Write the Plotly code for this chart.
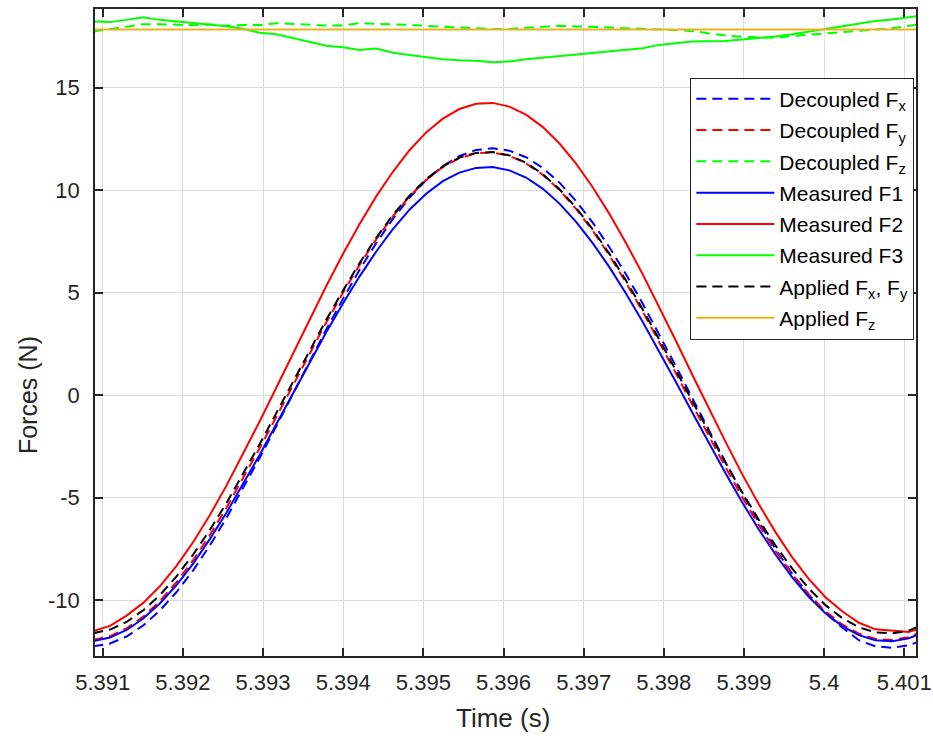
import plotly.graph_objects as go

# ---------------- data ----------------
time_s = [5.390883, 5.391091, 5.391298, 5.391506, 5.391713, 5.391921, 5.392129, 5.392336,
          5.392544, 5.392751, 5.392959, 5.393167, 5.393374, 5.393582, 5.393789, 5.393997,
          5.394205, 5.394412, 5.394620, 5.394827, 5.395035, 5.395243, 5.395450, 5.395658,
          5.395865, 5.396073, 5.396281, 5.396488, 5.396696, 5.396903, 5.397111, 5.397319,
          5.397526, 5.397734, 5.397941, 5.398149, 5.398357, 5.398564, 5.398772, 5.398979,
          5.399187, 5.399395, 5.399602, 5.399810, 5.400017, 5.400225, 5.400433, 5.400640,
          5.400848, 5.401055, 5.401263]

decoupled_fx = [-12.25, -12.11, -11.77, -11.23, -10.50, -9.60, -8.54, -7.33, -5.99, -4.56,
                -3.05, -1.50, 0.08, 1.66, 3.21, 4.70, 6.12, 7.42, 8.60, 9.63,
                10.49, 11.18, 11.67, 11.96, 12.05, 11.93, 11.61, 11.09, 10.38, 9.48,
                8.43, 7.23, 5.91, 4.49, 2.99, 1.43, -0.15, -1.73, -3.28, -4.78,
                -6.20, -7.51, -8.71, -9.74, -10.63, -11.33, -11.95, -12.25, -12.32, -12.20,
                -11.90]

decoupled_fy = [-11.93, -11.75, -11.37, -10.80, -10.04, -9.12, -8.04, -6.82, -5.49, -4.07,
                -2.58, -1.05, 0.50, 2.05, 3.55, 5.00, 6.36, 7.61, 8.73, 9.70,
                10.50, 11.13, 11.56, 11.80, 11.84, 11.68, 11.31, 10.76, 10.02, 9.10,
                8.04, 6.83, 5.51, 4.10, 2.61, 1.08, -0.47, -2.02, -3.53, -4.98,
                -6.34, -7.61, -8.74, -9.72, -10.54, -11.18, -11.63, -11.89, -11.94, -11.80,
                -11.45]

decoupled_fz = [17.74, 17.85, 17.98, 18.10, 18.10, 18.07, 18.05, 18.08, 18.02, 18.06,
                18.06, 18.15, 18.10, 18.05, 18.03, 18.03, 18.15, 18.12, 18.10, 18.06,
                18.02, 17.97, 17.93, 17.90, 17.87, 17.87, 17.92, 17.97, 18.02, 17.99,
                17.98, 17.94, 17.90, 17.88, 17.87, 17.82, 17.76, 17.66, 17.55, 17.49,
                17.46, 17.43, 17.52, 17.58, 17.63, 17.70, 17.76, 17.82, 17.90, 18.02,
                18.10]

measured_f1 = [-11.99, -11.82, -11.45, -10.89, -10.16, -9.26, -8.21, -7.02, -5.73, -4.35,
               -2.90, -1.40, 0.10, 1.60, 3.07, 4.47, 5.80, 7.01, 8.10, 9.05,
               9.83, 10.44, 10.86, 11.09, 11.13, 10.97, 10.62, 10.08, 9.36, 8.47,
               7.43, 6.26, 4.97, 3.60, 2.15, 0.66, -0.85, -2.35, -3.82, -5.23,
               -6.56, -7.78, -8.88, -9.84, -10.64, -11.26, -11.70, -11.95, -12.00, -11.86,
               -11.52]

measured_f2 = [-11.50, -11.25, -10.75, -10.13, -9.32, -8.32, -7.16, -5.85, -4.41, -2.88,
               -1.27, 0.38, 2.05, 3.71, 5.33, 6.89, 8.35, 9.70, 10.90, 11.95,
               12.82, 13.49, 13.96, 14.22, 14.26, 14.08, 13.69, 13.09, 12.29, 11.31,
               10.16, 8.86, 7.44, 5.92, 4.31, 2.67, 0.99, -0.67, -2.29, -3.86,
               -5.33, -6.69, -7.91, -8.97, -9.85, -10.54, -11.10, -11.42, -11.50, -11.55,
               -11.30]

measured_f3 = [18.23, 18.20, 18.31, 18.44, 18.31, 18.23, 18.15, 18.08, 18.00, 17.88,
               17.68, 17.61, 17.42, 17.25, 17.05, 16.97, 16.84, 16.91, 16.71, 16.60,
               16.49, 16.39, 16.34, 16.31, 16.24, 16.28, 16.39, 16.47, 16.55, 16.62,
               16.69, 16.76, 16.86, 16.93, 17.09, 17.18, 17.25, 17.27, 17.28, 17.35,
               17.42, 17.50, 17.61, 17.74, 17.88, 18.00, 18.15, 18.26, 18.33, 18.45,
               18.55]

applied_fxy = [-11.61, -11.43, -11.06, -10.49, -9.75, -8.84, -7.77, -6.57, -5.26, -3.85,
               -2.38, -0.86, 0.67, 2.19, 3.68, 5.10, 6.45, 7.68, 8.79, 9.74,
               10.54, 11.16, 11.59, 11.82, 11.86, 11.70, 11.34, 10.79, 10.06, 9.16,
               8.10, 6.91, 5.61, 4.21, 2.75, 1.23, -0.30, -1.82, -3.31, -4.74,
               -6.09, -7.34, -8.46, -9.43, -10.24, -10.87, -11.32, -11.57, -11.62, -11.48,
               -11.14]

applied_fz_level = 17.84
applied_fz = [applied_fz_level] * len(time_s)

x_tick_vals = [5.391, 5.392, 5.393, 5.394, 5.395, 5.396, 5.397, 5.398, 5.399, 5.400, 5.401]
x_tick_text = ["5.391", "5.392", "5.393", "5.394", "5.395", "5.396", "5.397", "5.398",
               "5.399", "5.4", "5.401"]
y_tick_vals = [-10, -5, 0, 5, 10, 15]
y_tick_text = ["-10", "-5", "0", "5", "10", "15"]

x_range = [5.390904, 5.401146]
y_range = [-12.72, 18.84]

# ---------------- figure ----------------
FONT = "Liberation Sans, Arial, sans-serif"
DASH = "10px,6px"
series = [
    ("Decoupled F<sub>x</sub>", decoupled_fx, "#0000FF", DASH),
    ("Decoupled F<sub>y</sub>", decoupled_fy, "#FF0000", DASH),
    ("Decoupled F<sub>z</sub>", decoupled_fz, "#00FF00", DASH),
    ("Measured F1", measured_f1, "#0000FF", "solid"),
    ("Measured F2", measured_f2, "#FF0000", "solid"),
    ("Measured F3", measured_f3, "#00FF00", "solid"),
    ("Applied F<sub>x</sub>, F<sub>y</sub>", applied_fxy, "#000000", DASH),
    ("Applied F<sub>z</sub>", applied_fz, "#EDB120", "solid"),
]

fig = go.Figure()
for i, (name, vals, color, dash) in enumerate(series):
    fig.add_trace(go.Scatter(
        x=time_s, y=vals, mode="lines", name=name,
        line=dict(color=color, width=2, dash=dash),
        legendgroup=f"g{i}",
    ))

axis_common = dict(
    showline=True, linecolor="#262626", linewidth=1.5, mirror="ticks",
    ticks="inside", ticklen=8, tickwidth=1.5, tickcolor="#262626",
    showgrid=True, gridcolor="#DCDCDC", gridwidth=1, zeroline=False,
    tickfont=dict(family=FONT, size=22, color="#262626"),
    ticklabeloverflow="allow", automargin=False,
)

fig.update_layout(
    width=933, height=736,
    margin=dict(l=95, r=17, t=9, b=80, autoexpand=False),
    paper_bgcolor="white", plot_bgcolor="white",
    font=dict(family=FONT, color="#262626"),
    xaxis=dict(range=x_range, tickvals=x_tick_vals, ticktext=x_tick_text,
               ticklabelstandoff=6, **axis_common),
    yaxis=dict(range=y_range, tickvals=y_tick_vals, ticktext=y_tick_text,
               ticklabelstandoff=9, **axis_common),
    legend=dict(
        x=0.998, xanchor="right", y=0.894, yanchor="top",
        bgcolor="white", bordercolor="#262626", borderwidth=1,
        font=dict(family=FONT, size=21, color="#000000"),
        tracegroupgap=1, traceorder="grouped", itemwidth=78,
    ),
    showlegend=True,
    annotations=[
        dict(text="Time (s)", xref="paper", yref="paper", x=0.497, y=-0.0964,
             xanchor="center", yanchor="middle", showarrow=False,
             font=dict(family=FONT, size=26, color="#262626")),
        dict(text="Forces (N)", xref="paper", yref="paper", x=-0.0816, y=0.4033,
             xanchor="center", yanchor="middle", showarrow=False, textangle=-90,
             font=dict(family=FONT, size=25, color="#262626")),
    ],
)

fig.write_html("out.html")
